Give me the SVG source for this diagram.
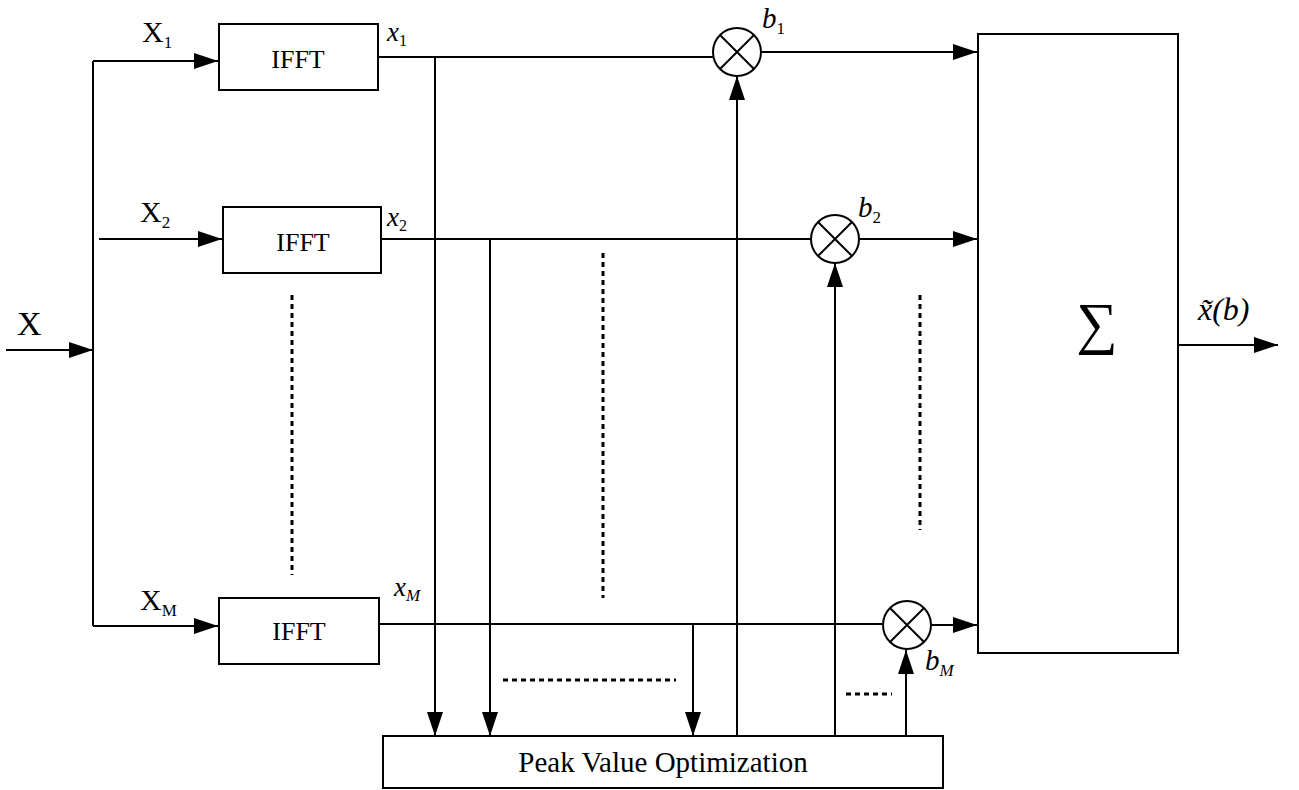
<svg xmlns="http://www.w3.org/2000/svg" width="1299" height="790" viewBox="0 0 1299 790">
<style>
.box{fill:#fff;stroke:#000;stroke-width:2}
.ln{fill:none;stroke:#000;stroke-width:2}
.dot{fill:none;stroke:#000;stroke-width:3;stroke-dasharray:5,4}
text{font-family:"Liberation Serif","DejaVu Serif","Times New Roman",serif;fill:#000}
.it{font-style:italic}
</style>
<defs>
<marker id="ah" markerWidth="24" markerHeight="16" refX="24" refY="8" orient="auto" markerUnits="userSpaceOnUse">
<path d="M0,0 L24,8 L0,16 Z" fill="#000"/>
</marker>
</defs>
<rect width="1299" height="790" fill="#fff"/>
<g id="connectors">
<line class="ln" x1="6" y1="350" x2="93" y2="350" marker-end="url(#ah)"/>
<line class="ln" x1="93" y1="61" x2="93" y2="626"/>
<line class="ln" x1="93" y1="61" x2="218" y2="61" marker-end="url(#ah)"/>
<line class="ln" x1="99" y1="239" x2="222" y2="239" marker-end="url(#ah)"/>
<line class="ln" x1="93" y1="626" x2="218" y2="626" marker-end="url(#ah)"/>
<line class="ln" x1="378" y1="57" x2="713" y2="57"/>
<line class="ln" x1="381" y1="239" x2="810" y2="239"/>
<line class="ln" x1="378" y1="624" x2="882" y2="624"/>
<line class="ln" x1="435" y1="57" x2="435" y2="736" marker-end="url(#ah)"/>
<line class="ln" x1="490" y1="239" x2="490" y2="736" marker-end="url(#ah)"/>
<line class="ln" x1="693" y1="624" x2="693" y2="736" marker-end="url(#ah)"/>
<line class="ln" x1="737" y1="736" x2="737" y2="76" marker-end="url(#ah)"/>
<line class="ln" x1="835" y1="736" x2="835" y2="263" marker-end="url(#ah)"/>
<line class="ln" x1="906" y1="736" x2="906" y2="650" marker-end="url(#ah)"/>
<line class="ln" x1="761" y1="52" x2="977" y2="52" marker-end="url(#ah)"/>
<line class="ln" x1="859" y1="239" x2="977" y2="239" marker-end="url(#ah)"/>
<line class="ln" x1="932" y1="625" x2="977" y2="625" marker-end="url(#ah)"/>
<line class="ln" x1="1178" y1="345" x2="1278" y2="345" marker-end="url(#ah)"/>
<line class="dot" x1="292" y1="295" x2="292" y2="575"/>
<line class="dot" x1="603" y1="253" x2="603" y2="598"/>
<line class="dot" x1="920" y1="295" x2="920" y2="530"/>
<line class="dot" x1="503" y1="680" x2="676" y2="680"/>
<line class="dot" x1="846" y1="694" x2="892" y2="694"/>
</g>
<g id="ifft1">
<rect class="box" x="219" y="24" width="159" height="66"/>
<text x="298" y="68" font-size="26" text-anchor="middle">IFFT</text>
</g>
<g id="ifft2">
<rect class="box" x="223" y="207" width="158" height="66"/>
<text x="303" y="251" font-size="26" text-anchor="middle">IFFT</text>
</g>
<g id="ifftM">
<rect class="box" x="219" y="598" width="160" height="66"/>
<text x="299" y="640" font-size="26" text-anchor="middle">IFFT</text>
</g>
<g id="mult1">
<circle class="box" cx="737" cy="52" r="24"/>
<path class="ln" d="M720,35 L754,69 M754,35 L720,69"/>
</g>
<g id="mult2">
<circle class="box" cx="835" cy="239" r="24"/>
<path class="ln" d="M818,222 L852,256 M852,222 L818,256"/>
</g>
<g id="multM">
<circle class="box" cx="907" cy="625" r="24"/>
<path class="ln" d="M890,608 L924,642 M924,608 L890,642"/>
</g>
<g id="sum">
<rect class="box" x="978" y="34" width="200" height="619"/>
<text x="1097" y="343" font-size="58" text-anchor="middle">∑</text>
</g>
<g id="pvo">
<rect class="box" x="383" y="736" width="560" height="52"/>
<text x="663" y="772" font-size="29" text-anchor="middle">Peak Value Optimization</text>
</g>
<g id="labels">
<text x="17" y="335" font-size="34">X</text>
<text x="142" y="42" font-size="30">X<tspan font-size="17" dy="6">1</tspan></text>
<text x="140" y="222" font-size="30">X<tspan font-size="17" dy="6">2</tspan></text>
<text x="140" y="610" font-size="30">X<tspan font-size="17" dy="6">M</tspan></text>
<text class="it" x="387" y="41" font-size="27">x<tspan font-size="16" dy="5" font-style="normal">1</tspan></text>
<text class="it" x="387" y="226" font-size="27">x<tspan font-size="16" dy="5" font-style="normal">2</tspan></text>
<text class="it" x="394" y="596" font-size="27">x<tspan font-size="17" dy="5">M</tspan></text>
<text class="it" x="762" y="28" font-size="29">b<tspan font-size="17" dy="6" font-style="normal">1</tspan></text>
<text class="it" x="858" y="217" font-size="29">b<tspan font-size="17" dy="6" font-style="normal">2</tspan></text>
<text class="it" x="925" y="670" font-size="29">b<tspan font-size="17" dy="6">M</tspan></text>
<text class="it" x="1198" y="320" font-size="32">x̃(b)</text>
</g>
</svg>
